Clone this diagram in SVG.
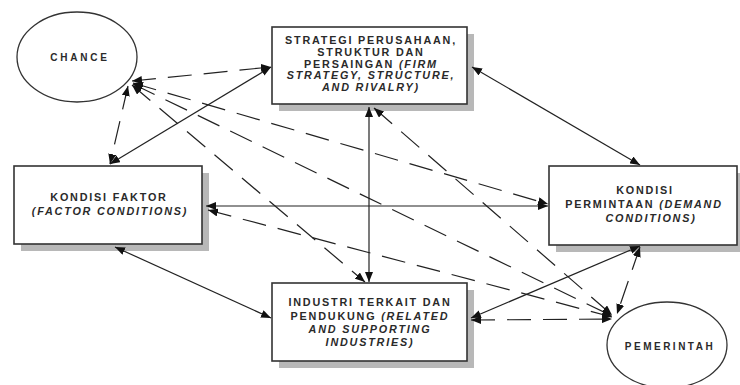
<svg xmlns="http://www.w3.org/2000/svg" width="740" height="385" viewBox="0 0 740 385">
<defs>
<marker id="ah" viewBox="0 0 10 8" refX="10" refY="4" markerWidth="10" markerHeight="8" markerUnits="userSpaceOnUse" orient="auto-start-reverse">
<path d="M0,0 L10,4 L0,8 z" fill="#111"/>
</marker>
</defs>
<style>
.box{fill:#fff;stroke:#333;stroke-width:1.6}
.sh{fill:#b8b8b8}
.ell{fill:#fff;stroke:#333;stroke-width:1.3}
.t{font-family:"Liberation Sans",Arial,sans-serif;font-weight:bold;font-size:10.8px;fill:#2a2a2a;text-anchor:middle;letter-spacing:1.8px}
.i{font-style:italic}
.sm{font-size:10px}
.sol{stroke:#222;stroke-width:1.2;fill:none;marker-start:url(#ah);marker-end:url(#ah)}
.das{stroke:#222;stroke-width:1.2;fill:none;stroke-dasharray:24 12;marker-start:url(#ah);marker-end:url(#ah)}
</style>
<rect width="740" height="385" fill="#fff"/>
<g id="chance">
<ellipse class="ell" cx="77" cy="57" rx="60" ry="45"/>
<text class="t sm" x="80" y="61" style="letter-spacing:2.8px">CHANCE</text>
</g>
<g id="strategi">
<rect class="sh" x="279" y="34" width="195" height="77"/>
<rect class="box" x="272" y="27" width="195" height="77"/>
<text class="t" x="371" y="44">STRATEGI PERUSAHAAN,</text>
<text class="t" x="371" y="56">STRUKTUR DAN</text>
<text class="t" x="371" y="68">PERSAINGAN <tspan class="i">(FIRM</tspan></text>
<text class="t i" x="371" y="79">STRATEGY, STRUCTURE,</text>
<text class="t i" x="371" y="91">AND RIVALRY)</text>
</g>
<g id="faktor">
<rect class="sh" x="21" y="173" width="188" height="78"/>
<rect class="box" x="14" y="166" width="188" height="78"/>
<text class="t" x="109" y="201">KONDISI FAKTOR</text>
<text class="t i" x="110" y="215">(FACTOR CONDITIONS)</text>
</g>
<g id="permintaan">
<rect class="sh" x="556" y="173" width="188" height="79"/>
<rect class="box" x="549" y="166" width="188" height="79"/>
<text class="t" x="645" y="194">KONDISI</text>
<text class="t" x="644" y="208">PERMINTAAN <tspan class="i">(DEMAND</tspan></text>
<text class="t i" x="651" y="222">CONDITIONS)</text>
</g>
<g id="industri">
<rect class="sh" x="279" y="290" width="195" height="78"/>
<rect class="box" x="272" y="283" width="195" height="78"/>
<text class="t" x="370" y="306">INDUSTRI TERKAIT DAN</text>
<text class="t" x="370" y="320">PENDUKUNG <tspan class="i">(RELATED</tspan></text>
<text class="t i" x="370" y="333">AND SUPPORTING</text>
<text class="t i" x="370" y="346">INDUSTRIES)</text>
</g>
<g id="pemerintah">
<ellipse class="ell" cx="667" cy="345" rx="60" ry="43"/>
<text class="t sm" x="670" y="350" style="letter-spacing:2.5px">PEMERINTAH</text>
</g>
<g id="connectors">
<line class="sol" x1="110" y1="164" x2="271" y2="67"/>
<line class="sol" x1="472" y1="67" x2="640" y2="165"/>
<line class="sol" x1="206" y1="206" x2="548" y2="206"/>
<line class="sol" x1="115" y1="247" x2="271" y2="318"/>
<line class="sol" x1="369" y1="107" x2="369" y2="282"/>
<line class="sol" x1="471" y1="318" x2="640" y2="246"/>
<line class="das" x1="132" y1="81" x2="271" y2="67"/>
<line class="das" x1="128" y1="86" x2="110" y2="164"/>
<line class="das" x1="133" y1="83" x2="548" y2="204"/>
<line class="das" x1="133" y1="84" x2="612" y2="316"/>
<line class="das" x1="132" y1="85" x2="365" y2="282"/>
<line class="das" x1="374" y1="108" x2="612" y2="315"/>
<line class="das" x1="208" y1="210" x2="612" y2="317"/>
<line class="das" x1="471" y1="320" x2="612" y2="319"/>
<line class="das" x1="640" y1="247" x2="617" y2="314"/>
</g>
</svg>
